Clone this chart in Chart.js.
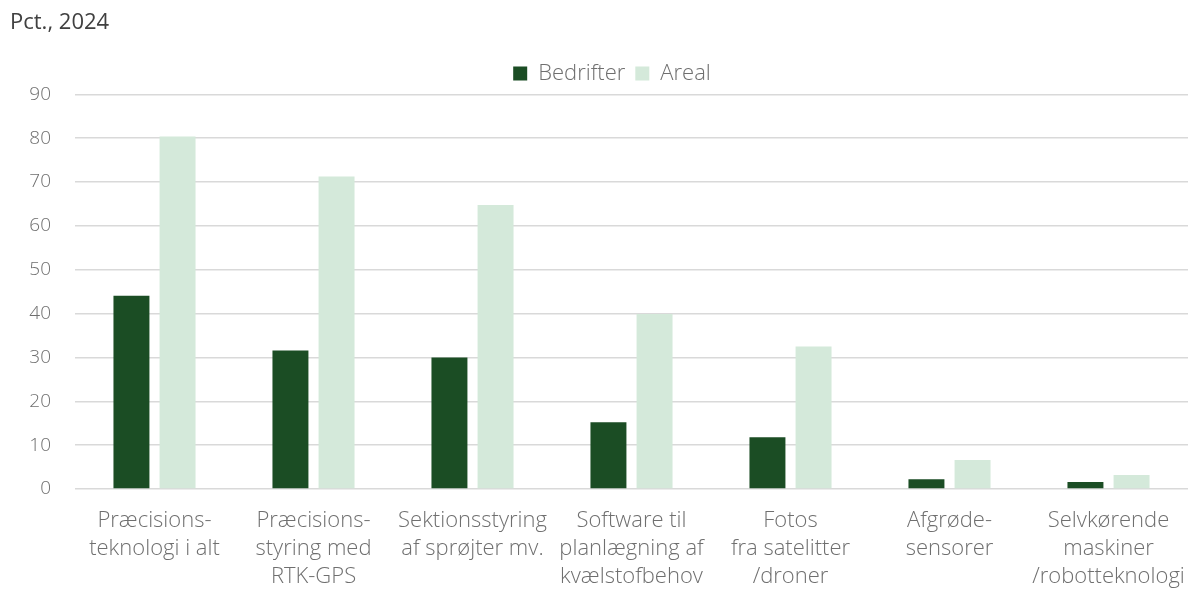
<!DOCTYPE html>
<html>
<head>
<meta charset="utf-8">
<script src="https://cdn.jsdelivr.net/npm/chart.js@4"></script>
<style>
html,body{margin:0;padding:0;background:#fff;}
#wrap{width:1189px;height:589px;position:relative;}
</style>
</head>
<body>
<div id="wrap"><canvas id="c" width="1189" height="589"></canvas></div>
<script>
const categories = [
  ["Præcisions-", "teknologi i alt"],
  ["Præcisions-", "styring med", "RTK-GPS"],
  ["Sektionsstyring", "af sprøjter mv."],
  ["Software til", "planlægning af", "kvælstofbehov"],
  ["Fotos", "fra satelitter", "/droner"],
  ["Afgrøde-", "sensorer"],
  ["Selvkørende", "maskiner", "/robotteknologi"]
];
const bedrifter = [44.1, 31.6, 30.0, 15.2, 11.8, 2.2, 1.6];
const areal = [80.4, 71.3, 64.8, 39.9, 32.5, 6.6, 3.2];
const seriesNames = ["Bedrifter", "Areal"];
const yTicks = [0, 10, 20, 30, 40, 50, 60, 70, 80, 90];

const FONT = "'Open Sans', 'Liberation Sans', sans-serif";
const GREY = "#6f6f6f";

const legendShift = {
  id: 'legendShift',
  afterLayout(chart) {
    if (chart.legend) { chart.legend.left += 26; }
  }
};

new Chart(document.getElementById('c'), {
  type: 'bar',
  data: {
    labels: categories,
    datasets: [
      { label: seriesNames[0], data: bedrifter, backgroundColor: '#1b4d24', borderWidth: 0,
        barPercentage: 0.78, categoryPercentage: 0.58 },
      { label: seriesNames[1], data: areal, backgroundColor: '#d4e9da', borderWidth: 0,
        barPercentage: 0.78, categoryPercentage: 0.58 }
    ]
  },
  plugins: [legendShift],
  options: {
    responsive: false,
    animation: false,
    layout: { padding: { left: 10, right: 1, top: 10, bottom: 0 } },
    plugins: {
      title: {
        display: true, text: 'Pct., 2024', align: 'start',
        color: '#404040', font: { family: FONT, size: 22, weight: 'normal' },
        padding: { top: 0, bottom: 16 }
      },
      legend: {
        display: true, position: 'top', align: 'center',
        labels: {
          color: GREY, font: { family: FONT, size: 22, weight: 300 },
          boxWidth: 14, boxHeight: 14, padding: 10
        }
      },
      tooltip: { enabled: false }
    },
    scales: {
      x: {
        afterFit: s => { s.height = 100; s.paddingLeft = 0; s.paddingRight = 0; },
        grid: { display: false, drawTicks: false },
        border: { display: false },
        ticks: { color: GREY, font: { family: FONT, size: 22, weight: 300, lineHeight: 1.27 }, padding: 18, maxRotation: 0, autoSkip: false }
      },
      y: {
        min: 0, max: 90,
        afterFit: s => { s.width = 65; },
        afterBuildTicks: s => { s.ticks = yTicks.map(v => ({ value: v })); },
        grid: { color: '#d9d9d9', lineWidth: 1.5, drawTicks: false },
        border: { display: false },
        ticks: { color: GREY, font: { family: FONT, size: 19, weight: 300 }, padding: 24, stepSize: 10 }
      }
    }
  }
});
</script>
</body>
</html>
